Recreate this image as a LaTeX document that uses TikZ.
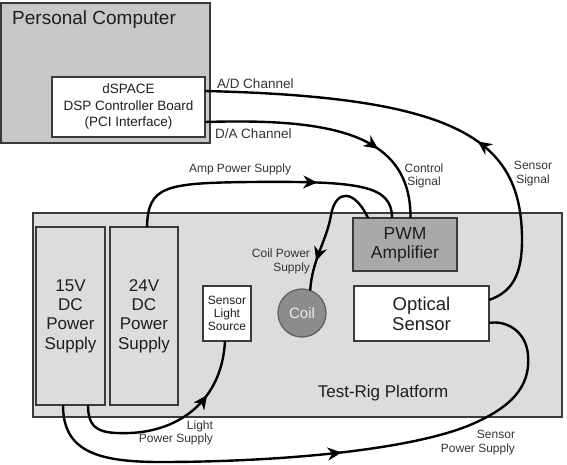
\documentclass[tikz,border=0pt]{standalone}
\usepackage{fontspec}
\setmainfont{Liberation Sans}
\usetikzlibrary{arrows.meta,decorations.markings}
\definecolor{pcgray}{HTML}{C8C8C8}
\definecolor{platgray}{HTML}{DCDCDC}
\definecolor{pwmgray}{HTML}{A9A9A9}
\definecolor{coilgray}{HTML}{8C8C8C}
\definecolor{bordergray}{HTML}{3A3A3A}
\definecolor{textdark}{HTML}{1E1E1E}
\definecolor{labelgray}{HTML}{333333}
\begin{document}
\begin{tikzpicture}[x=1pt,y=-1pt,
  box/.style={draw=bordergray, line width=1.3pt, inner sep=0pt, outer sep=0pt, align=center, text=textdark},
  conn/.style={line width=2.4pt, black},
  midarrow/.style={postaction={decorate}, decoration={markings, mark=at position #1 with {\arrow{Stealth[length=14pt,width=13pt,inset=4.5pt]}}}},
  lbl/.style={inner sep=0pt, outer sep=0pt, text=labelgray, font=\fontsize{12}{13.5}\selectfont}
]
\useasboundingbox (0,0) rectangle (567,464);
\fill[white] (0,0) rectangle (567,464);

% Personal computer
\node[box, fill=pcgray, line width=1.5pt, minimum width=209pt, minimum height=140pt] (pc) at (105.5,73) {};
\node[anchor=west, inner sep=0pt, text=textdark, font=\fontsize{19}{22}\selectfont] (pclabel) at (12,20) {Personal Computer};
\node[box, fill=white, minimum width=153pt, minimum height=60pt, font=\fontsize{13.5}{16.5}\selectfont] (dsp) at (128.5,107) {dSPACE\\DSP Controller Board\\(PCI Interface)};

% Test rig platform
\node[box, fill=platgray, minimum width=529pt, minimum height=204pt] (plat) at (297.5,315) {};
\node[inner sep=0pt, text=textdark, font=\fontsize{17}{19}\selectfont] (platlabel) at (383,393) {Test-Rig Platform};

\node[box, fill=platgray, minimum width=69pt, minimum height=178pt, font=\fontsize{17}{19.3}\selectfont] (v15) at (70.5,316) {15V\\DC\\Power\\Supply};
\node[box, fill=platgray, minimum width=68pt, minimum height=178pt, font=\fontsize{17}{19.3}\selectfont] (v24) at (144,316) {24V\\DC\\Power\\Supply};
\node[box, fill=white, minimum width=48pt, minimum height=55pt, font=\fontsize{12}{13}\selectfont] (sls) at (227,313.5) {Sensor\\Light\\Source};
\node[circle, draw=bordergray!80, line width=1.3pt, fill=coilgray, minimum size=48pt, inner sep=0pt, outer sep=0pt, text=white!92!black, font=\fontsize{15}{17}\selectfont] (coil) at (302,313) {Coil};
\node[box, fill=pwmgray, minimum width=104pt, minimum height=53pt, font=\fontsize{17.5}{19}\selectfont] (pwm) at (405,244.5) {PWM\\Amplifier};
\node[box, fill=white, minimum width=135pt, minimum height=55pt, font=\fontsize{18.5}{20}\selectfont] (opt) at (421.5,313.5) {Optical\\Sensor};

% Connectors
\draw[conn, midarrow=0.4] ([yshift=13.5pt]opt.east) .. controls (512,292) and (522,275) .. (522,240)
  .. controls (522,140) and (460,97) .. ([yshift=16pt]dsp.east);
\draw[conn, midarrow=0.69] ([yshift=-15pt]dsp.east) .. controls (335,118) and (411,135) .. ([xshift=5.5pt]pwm.north);
\draw[conn, midarrow=0.68] ([xshift=3pt]v24.north) .. controls (148,186) and (165,183) .. (250,182)
  .. controls (360,181) and (392,185) .. ([xshift=-13pt]pwm.north);
\draw[conn, midarrow=0.78] ([xshift=-37pt]pwm.north) .. controls (355,190) and (336,188) .. (331,215)
  .. controls (327,240) and (312,260) .. (coil.70);
\draw[conn, midarrow=0.72] ([xshift=17.5pt]v15.south) .. controls (88,430) and (100,434) .. (130,433)
  .. controls (180,431) and (222,400) .. ([xshift=-2pt]sls.south);
\draw[conn, midarrow=0.52] ([xshift=-7.5pt]v15.south) .. controls (63,450) and (95,462) .. (160,462)
  .. controls (280,462) and (410,450) .. (470,425)
  .. controls (520,404) and (530,380) .. (528,355)
  .. controls (526,330) and (505,320) .. ([yshift=-9.5pt]opt.east);

% Labels
\node[lbl, anchor=west, font=\fontsize{13.5}{15}\selectfont] (adlbl) at (217,84) {A/D Channel};
\node[lbl, anchor=west, font=\fontsize{13.5}{15}\selectfont] (dalbl) at (215,134) {D/A Channel};
\node[lbl, anchor=west] (amplbl) at (189,169) {Amp Power Supply};
\node[lbl, align=center] (ctrllbl) at (424,176) {Control\\Signal};
\node[lbl, align=center] (sslbl) at (533,173.5) {Sensor\\Signal};
\node[lbl, align=right, anchor=east] (coillbl) at (310,261.5) {Coil Power\\Supply};
\node[lbl, align=right, anchor=east] (lightlbl) at (213,433) {Light\\Power Supply};
\node[lbl, align=right, anchor=east] (splbl) at (515,442.5) {Sensor\\Power Supply};
\end{tikzpicture}
\end{document}
